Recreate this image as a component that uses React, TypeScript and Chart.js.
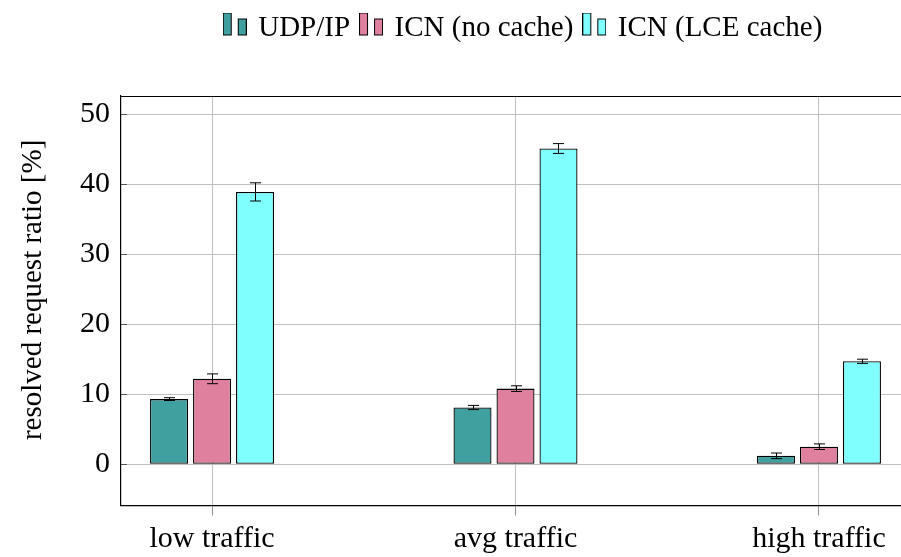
import { useEffect, useRef } from 'react';
import { Chart, registerables } from 'chart.js';

Chart.register(...registerables);

// ---- data ----
const categories = ['low traffic', 'avg traffic', 'high traffic'];
const seriesNames = ['UDP/IP', 'ICN (no cache)', 'ICN (LCE cache)'];
const udpValues = [9.3, 8.1, 1.2];
const udpErrors = [0.2, 0.3, 0.4];
const icnNoCacheValues = [12.2, 10.8, 2.5];
const icnNoCacheErrors = [0.7, 0.4, 0.4];
const icnLceValues = [38.9, 45.1, 14.7];
const icnLceErrors = [1.3, 0.7, 0.3];
const yTickValues = [0, 10, 20, 30, 40, 50];
const yAxisTitle = '   resolved request ratio [%]';

const seriesValues = [udpValues, icnNoCacheValues, icnLceValues];
const seriesErrors = [udpErrors, icnNoCacheErrors, icnLceErrors];
const seriesColors = ['#40A0A0', '#DF809F', '#80FFFF'];

const FONT = '"Liberation Serif", "Times New Roman", serif';

function makeLegendIcon(color: string) {
  const c = document.createElement('canvas');
  c.width = 24;
  c.height = 32;
  const ctx = c.getContext('2d')!;
  ctx.fillStyle = color;
  ctx.strokeStyle = '#000';
  ctx.lineWidth = 1;
  ctx.fillRect(0.5, 0.5, 8, 22);
  ctx.strokeRect(0.5, 0.5, 8, 22);
  ctx.fillRect(15.5, 6.5, 8, 16);
  ctx.strokeRect(15.5, 6.5, 8, 16);
  return c;
}

const errorBarPlugin = {
  id: 'errorBars',
  afterDatasetsDraw(chart: any) {
    const ctx = chart.ctx;
    const yScale = chart.scales.y;
    ctx.save();
    ctx.strokeStyle = '#000';
    ctx.lineWidth = 1;
    chart.data.datasets.forEach((ds: any, di: number) => {
      const meta = chart.getDatasetMeta(di);
      const errs = seriesErrors[di];
      meta.data.forEach((bar: any, i: number) => {
        const v = seriesValues[di][i];
        const e = errs[i];
        const x = Math.round(bar.x) + 0.5;
        const yt = yScale.getPixelForValue(v + e);
        const yb = yScale.getPixelForValue(v - e);
        ctx.beginPath();
        ctx.moveTo(x, yt);
        ctx.lineTo(x, yb);
        ctx.moveTo(x - 5.5, yt);
        ctx.lineTo(x + 5.5, yt);
        ctx.moveTo(x - 5.5, yb);
        ctx.lineTo(x + 5.5, yb);
        ctx.stroke();
      });
    });
    ctx.restore();
  },
};

const framePlugin = {
  id: 'frame',
  afterDraw(chart: any) {
    const ctx = chart.ctx;
    const { left, right, top } = chart.chartArea;
    const yScale = chart.scales.y;
    ctx.save();
    ctx.strokeStyle = '#000';
    ctx.lineWidth = 1.2;
    ctx.beginPath();
    ctx.moveTo(left, Math.round(top) + 0.5);
    ctx.lineTo(right, Math.round(top) + 0.5);
    ctx.moveTo(Math.round(right) - 0.5, top);
    ctx.lineTo(Math.round(right) - 0.5, chart.chartArea.bottom);
    ctx.stroke();
    ctx.strokeStyle = '#555';
    ctx.lineWidth = 1;
    ctx.beginPath();
    yTickValues.forEach((v) => {
      const y = Math.round(yScale.getPixelForValue(v)) + 0.5;
      ctx.moveTo(left, y);
      ctx.lineTo(left + 6, y);
      ctx.moveTo(right - 6, y);
      ctx.lineTo(right, y);
    });
    ctx.stroke();
    ctx.restore();
  },
};

export default function App() {
  const canvasRef = useRef<HTMLCanvasElement | null>(null);

  useEffect(() => {
    const canvas = canvasRef.current;
    if (!canvas) return;
    const icons = seriesColors.map(makeLegendIcon);

    const datasets = seriesNames.map((name, si) => ({
      label: name,
      data: seriesValues[si].map((v, i) => ({ x: i, y: v })),
      backgroundColor: seriesColors[si],
      borderColor: '#000',
      borderWidth: 1.3,
      borderSkipped: false as const,
      categoryPercentage: 0.425,
      barPercentage: 0.884,
    }));

    const chart = new Chart(canvas, {
      type: 'bar',
      data: { datasets },
      plugins: [errorBarPlugin, framePlugin],
      options: {
        animation: false,
        responsive: false,
        maintainAspectRatio: false,
        layout: { padding: { left: 0, right: 0, top: 2, bottom: 0 } },
        plugins: {
          tooltip: { enabled: false },
          legend: {
            display: true,
            position: 'top',
            fullSize: false,
            labels: {
              usePointStyle: true,
              pointStyleWidth: 18,
              boxHeight: 22,
              padding: 12,
              color: '#000',
              font: { family: FONT, size: 29 },
              generateLabels: () =>
                seriesNames.map((name, i) => ({
                  text: name,
                  pointStyle: icons[i] as any,
                  fillStyle: seriesColors[i],
                  strokeStyle: '#000',
                  lineWidth: 1,
                  hidden: false,
                  datasetIndex: i,
                })),
            },
          },
        },
        scales: {
          x: {
            type: 'linear',
            position: 'bottom',
            min: -0.3,
            max: 2.356,
            offset: false,
            afterBuildTicks: (s: any) => {
              s.ticks = categories.map((_, i) => ({ value: i }));
            },
            afterFit: (s: any) => {
              s.height = 51.5;
            },
            grid: {
              offset: false,
              color: '#c0c0c0',
              lineWidth: 1,
              drawTicks: true,
              tickLength: 10,
              tickColor: '#909090',
            },
            border: { display: true, color: '#000', width: 1.2 },
            ticks: {
              autoSkip: false,
              maxRotation: 0,
              padding: 6,
              color: '#000',
              font: { family: FONT, size: 30 },
              callback: (v: any) => categories[Math.round(Number(v))] ?? '',
            },
          },
          xTop: {
            type: 'linear',
            position: 'top',
            min: 0,
            max: 1,
            display: true,
            grid: { display: false, drawTicks: false },
            border: { display: false },
            ticks: { display: false },
            afterFit: (s: any) => {
              s.height = 43;
            },
          },
          y: {
            type: 'linear',
            min: -5.9,
            max: 52.6,
            afterBuildTicks: (s: any) => {
              s.ticks = yTickValues.map((v) => ({ value: v }));
            },
            afterFit: (s: any) => {
              s.width = 121;
            },
            grid: { color: '#c0c0c0', lineWidth: 1, drawTicks: false },
            border: { display: true, color: '#000', width: 1.2 },
            ticks: {
              padding: 11,
              color: '#000',
              font: { family: FONT, size: 30 },
              callback: (v: any) => String(v),
            },
            title: {
              display: true,
              text: yAxisTitle,
              color: '#000',
              font: { family: FONT, size: 29 },
              padding: { top: 16, bottom: 0 },
            },
          },
        },
      },
    } as any);

    return () => chart.destroy();
  }, []);

  return (
    <div
      style={{
        position: 'fixed',
        left: 0,
        top: 0,
        width: 901,
        height: 557,
        overflow: 'hidden',
        background: '#fff',
      }}
    >
      <canvas ref={canvasRef} width={927} height={557} style={{ display: 'block' }} />
    </div>
  );
}
